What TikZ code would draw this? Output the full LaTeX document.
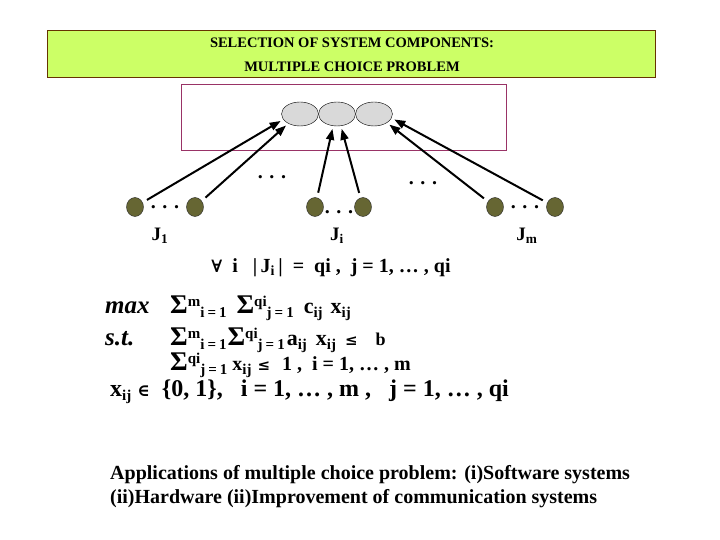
\documentclass[tikz,border=0pt]{standalone}
\usepackage{fontspec}
\setmainfont{Liberation Serif}
\newfontfamily\symf{DejaVu Serif}
\usetikzlibrary{arrows.meta,shapes.geometric}
\definecolor{headgreen}{HTML}{CCFF66}
\definecolor{headbrown}{HTML}{663300}
\definecolor{framemag}{HTML}{993366}
\definecolor{itemolive}{HTML}{666633}
\newcommand{\fs}[1]{\fontsize{#1}{#1}\selectfont}
\newcommand{\sig}{{\fs{27}Σ}}
\newcommand{\upidx}[1]{\raisebox{7pt}{\fs{15}#1}}
\newcommand{\dnidx}[1]{\raisebox{-4pt}{\fs{15}#1}}
\newcommand{\eqs}{\hspace{3pt}=\hspace{3pt}}

\begin{document}
\begin{tikzpicture}[x=1pt,y=-1pt,
  font=\bfseries,
  comp/.style={ellipse,draw,fill=gray!30,minimum width=37pt,minimum height=24pt,inner sep=0pt},
  item/.style={ellipse,draw=black!85,fill=itemolive,minimum width=17pt,minimum height=19pt,inner sep=0pt},
  ar/.style={-{Triangle[length=11pt,width=8pt]},line width=2pt,shorten <=5pt,shorten >=3pt},
  dotrow/.style={font=\bfseries\fs{20}},
  lbl/.style={font=\bfseries\fs{19}},
  eqn/.style={anchor=base west,inner sep=0pt,font=\bfseries\fs{22}}]
\useasboundingbox (0,0) rectangle (720,540);
\node[draw=headbrown,fill=headgreen,line width=1pt,anchor=north west,inner sep=0pt,
      minimum width=608pt,minimum height=47pt] (head) at (47,30) {};
\node[font=\bfseries\fs{14.5}] (title1) at (352,43) {SELECTION OF SYSTEM COMPONENTS:};
\node[font=\bfseries\fs{14.5}] (title2) at (352,67) {MULTIPLE CHOICE PROBLEM};
\node[draw=framemag,line width=0.8pt,anchor=north west,inner sep=0pt,
      minimum width=325pt,minimum height=66pt] (frame) at (181,84) {};
\node[comp] (c1) at (300,114) {};
\node[comp] (c2) at (337,114) {};
\node[comp] (c3) at (374,114) {};
\node[item] (d1) at (135,207) {};
\node[item] (d2) at (195,207) {};
\node[item] (d3) at (315,207) {};
\node[item] (d4) at (363,207) {};
\node[item] (d5) at (495,207) {};
\node[item] (d6) at (555,207) {};
\draw[ar] (d1) -- (c1.198);
\draw[ar] (d2) -- (c1.219);
\draw[ar] (d3) -- (c2.252);
\draw[ar] (d4) -- (c2.288);
\draw[ar] (d5) -- (c3.326);
\draw[ar] (d6) -- (c3.347);
\node[dotrow] (gap1) at (272,177) {. . .};
\node[dotrow] (gap2) at (423,183) {. . .};
\node[dotrow] (g12) at (165,207) {. . .};
\node[dotrow] (g34) at (339,212) {. . .};
\node[dotrow] (g56) at (525,207) {. . .};
\node[lbl] (J1) at (160,236) {J\textsubscript{1}};
\node[lbl] (Ji) at (337,236) {J\textsubscript{i}};
\node[lbl] (Jm) at (527,236) {J\textsubscript{m}};
\node[font=\bfseries\fs{20}] (cond) at (331,268) {{\symf\fs{17}∀}\ \ i \ \ |\,J\textsubscript{i}\,| \ = \ qi , \ j = 1, … , qi};
\node[eqn,font=\bfseries\itshape\fs{25}] (max) at (105,313) {max};
\node[eqn,font=\bfseries\itshape\fs{25}] (st) at (105,345) {s.t.};
\node[eqn] (obj) at (170,313) {\sig\upidx{m}\dnidx{i\eqs1}\hspace{10pt}\sig\upidx{qi}\dnidx{j\eqs1}\hspace{10pt}c\dnidx{ij}\hspace{8pt}x\dnidx{ij}};
\node[eqn] (con1) at (170,345) {\sig\upidx{m}\dnidx{i\eqs1}\hspace{1pt}\sig\upidx{qi}\dnidx{j\eqs1}\hspace{2pt}a\dnidx{ij}\hspace{9pt}x\dnidx{ij}\hspace{9pt}{\symf\fs{15}≤}\hspace{18pt}{\fs{18}b}};
\node[eqn] (con2) at (170,370) {\sig\upidx{qi}\dnidx{j\eqs1}\hspace{5pt}{\fs{20}x\dnidx{ij}\hspace{6pt}{\symf\fs{15}≤}\hspace{12pt}1 ,\hspace{10pt}i\hspace{5pt}=\hspace{5pt}1,\hspace{5pt}…\hspace{5pt},\hspace{5pt}m}};
\node[eqn,font=\bfseries\fs{24}] (dom) at (110,396) {x\dnidx{ij} {\symf\fs{17}∈} \ \{0, 1\}, \ \ i = 1, … , m , \ \ j = 1, … , qi};
\node[eqn,font=\bfseries\fs{20}] (app1) at (110,479) {Applications of multiple choice problem: (i)Software systems};
\node[eqn,font=\bfseries\fs{20}] (app2) at (110,503) {(ii)Hardware (ii)Improvement of communication systems};
\end{tikzpicture}
\end{document}
